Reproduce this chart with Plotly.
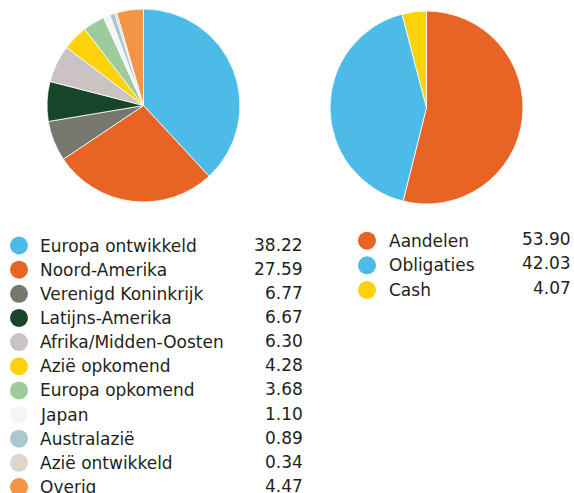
import plotly.graph_objects as go

W, H = 574, 493

regions = ["Europa ontwikkeld", "Noord-Amerika", "Verenigd Koninkrijk", "Latijns-Amerika",
           "Afrika/Midden-Oosten", "Azië opkomend", "Europa opkomend", "Japan",
           "Australazië", "Azië ontwikkeld", "Overig"]
region_values = [38.22, 27.59, 6.77, 6.67, 6.30, 4.28, 3.68, 1.10, 0.89, 0.34, 4.47]
region_colors = ["#4DBBE8", "#E86424", "#77776D", "#17452A", "#CAC2C3", "#FDD20A",
                 "#9DCB9B", "#F5F5F5", "#A9C8D0", "#DDD6CC", "#F39446"]

assets = ["Aandelen", "Obligaties", "Cash"]
asset_values = [53.90, 42.03, 4.07]
asset_colors = ["#E86424", "#4DBBE8", "#FDD20A"]

FONT = "DejaVu Sans"
TXT = "#231F20"
FS = 17

fig = go.Figure()

def pdom(x0, x1, y0, y1):
    return dict(x=[x0 / W, x1 / W], y=[1 - y1 / H, 1 - y0 / H])

fig.add_trace(go.Pie(labels=regions, values=region_values, sort=False, direction="clockwise",
                     rotation=0, marker=dict(colors=region_colors, line=dict(color="white", width=0.8)),
                     textinfo="none", hoverinfo="label+value", domain=pdom(47, 240, 9, 202),
                     showlegend=False))
fig.add_trace(go.Pie(labels=assets, values=asset_values, sort=False, direction="clockwise",
                     rotation=0, marker=dict(colors=asset_colors, line=dict(color="white", width=0.8)),
                     textinfo="none", hoverinfo="label+value", domain=pdom(330, 523, 11, 204),
                     showlegend=False))

# legend markers on an invisible pixel-space axis
y0L, stepL = 245.5, 24.15
yL = [y0L + i * stepL for i in range(len(regions))]
y0R, stepR = 240.7, 24.6
yR = [y0R + i * stepR for i in range(len(assets))]

fig.add_trace(go.Scatter(x=[19] * len(regions), y=yL, mode="markers",
                         marker=dict(size=18, color=region_colors, line=dict(width=0)),
                         showlegend=False, hoverinfo="skip", cliponaxis=False))
fig.add_trace(go.Scatter(x=[367] * len(assets), y=yR, mode="markers",
                         marker=dict(size=18, color=asset_colors, line=dict(width=0)),
                         showlegend=False, hoverinfo="skip"))

ann = []
for name, v, y in zip(regions, region_values, yL):
    ann.append(dict(x=38, y=y, text=name, xanchor="left", yanchor="middle", showarrow=False,
                    xref="x", yref="y", font=dict(family=FONT, size=FS, color=TXT)))
    ann.append(dict(x=305, y=y - 1, text=f"{v:.2f}", xanchor="right", yanchor="middle", showarrow=False,
                    xref="x", yref="y", font=dict(family=FONT, size=FS, color=TXT)))
for name, v, y in zip(assets, asset_values, yR):
    ann.append(dict(x=387, y=y, text=name, xanchor="left", yanchor="middle", showarrow=False,
                    xref="x", yref="y", font=dict(family=FONT, size=FS, color=TXT)))
    ann.append(dict(x=573, y=y - 2, text=f"{v:.2f}", xanchor="right", yanchor="middle", showarrow=False,
                    xref="x", yref="y", font=dict(family=FONT, size=FS, color=TXT)))

fig.update_layout(
    width=W, height=H, margin=dict(l=0, r=0, t=0, b=0),
    paper_bgcolor="white", plot_bgcolor="rgba(0,0,0,0)",
    xaxis=dict(range=[0, W], visible=False, fixedrange=True, domain=[0, 1]),
    yaxis=dict(range=[H, 0], visible=False, fixedrange=True, domain=[0, 1]),
    annotations=ann,
)

fig.write_html("out.html", config={"displayModeBar": False},
               post_script="document.body.style.margin='0';document.body.style.overflow='hidden';")
